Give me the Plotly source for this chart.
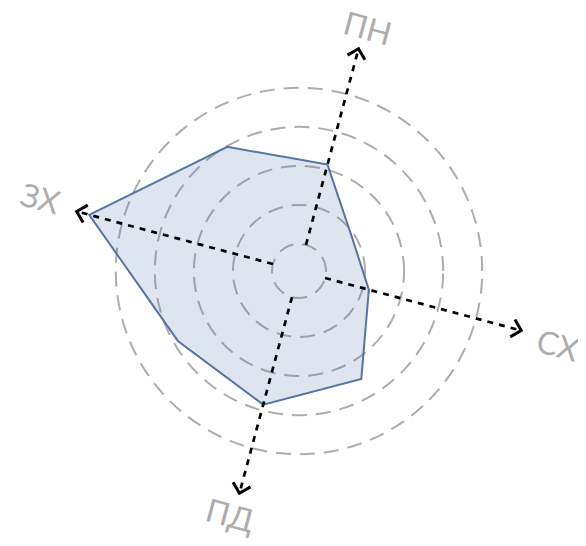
import math
import plotly.graph_objects as go

# compass directions (degrees, clockwise from north) and their labels
tick_angles = [0, 90, 180, 270]
tick_labels = ["ПН", "СХ", "ПД", "ЗХ"]

# eight directions of the rose and the measured values (in ring units)
directions = [0, 45, 90, 135, 180, 225, 270, 315]
values = [2.13, 0.9, 1.16, 2.5, 2.85, 2.89, 4.87, 2.98]

rings = [0, 1, 2, 3, 4]

ROTATION = 75      # screen angle of "north"
RADIUS_PX = 234    # polar radius in pixels (set by the margins below)
INNER_PX = 27      # where value 0 sits
R_MAX = 5.3
R_MIN = -INNER_PX / (RADIUS_PX - INNER_PX) * R_MAX
ARROW_R = 5.2      # where the axis arrows end

LINE_COLOR = "#5675a6"
FILL_COLOR = "rgba(86,117,166,0.19)"
GRID_COLOR = "#adadad"
LABEL_COLOR = "#adadad"


def px_to_r(px):
    return R_MIN + px / RADIUS_PX * (R_MAX - R_MIN)


def r_to_px(r):
    return (r - R_MIN) / (R_MAX - R_MIN) * RADIUS_PX


fig = go.Figure()

# data polygon
fig.add_trace(
    go.Scatterpolar(
        r=values + values[:1],
        theta=directions + directions[:1],
        mode="lines",
        fill="toself",
        fillcolor=FILL_COLOR,
        line=dict(color=LINE_COLOR, width=2),
        showlegend=False,
    )
)

# dashed axis arrows
tip_px = r_to_px(ARROW_R)
wing_back, wing_side = 9, 9
for ang in tick_angles:
    fig.add_trace(
        go.Scatterpolar(
            r=[0, ARROW_R],
            theta=[ang, ang],
            mode="lines",
            line=dict(color="black", width=2.7, dash="6px,6px"),
            hoverinfo="skip",
            showlegend=False,
            cliponaxis=False,
        )
    )
    a = tip_px - wing_back
    wr = px_to_r(math.hypot(a, wing_side))
    dth = math.degrees(math.atan2(wing_side, a))
    fig.add_trace(
        go.Scatterpolar(
            r=[wr, ARROW_R, wr],
            theta=[ang - dth, ang, ang + dth],
            mode="lines",
            line=dict(color="black", width=3),
            hoverinfo="skip",
            showlegend=False,
            cliponaxis=False,
        )
    )

# rotated direction labels around the rose
plot_size = 2 * RADIUS_PX
annotations = []
for ang, lab in zip(tick_angles, tick_labels):
    phi = math.radians(ROTATION - ang - 0.8)
    d = 247 + 23 * abs(math.cos(phi))
    annotations.append(
        dict(
            x=0.5 + d * math.cos(phi) / plot_size,
            y=0.5 + d * math.sin(phi) / plot_size,
            xref="paper",
            yref="paper",
            text=lab,
            showarrow=False,
            textangle=15,
            xanchor="center",
            yanchor="middle",
            font=dict(family="Lato", size=32, color=LABEL_COLOR),
        )
    )

fig.update_layout(
    width=586,
    height=546,
    margin=dict(l=57, r=61, t=29, b=49),
    paper_bgcolor="white",
    plot_bgcolor="white",
    annotations=annotations,
    polar=dict(
        bgcolor="rgba(0,0,0,0)",
        radialaxis=dict(
            range=[R_MIN, R_MAX],
            tickvals=rings,
            showticklabels=False,
            ticks="",
            showline=False,
            gridcolor=GRID_COLOR,
            gridwidth=2.3,
            griddash="15px,9px",
        ),
        angularaxis=dict(
            rotation=ROTATION,
            direction="clockwise",
            tickvals=tick_angles,
            showticklabels=False,
            showgrid=False,
            showline=False,
            ticks="",
        ),
    ),
)

fig.write_html("out.html")
